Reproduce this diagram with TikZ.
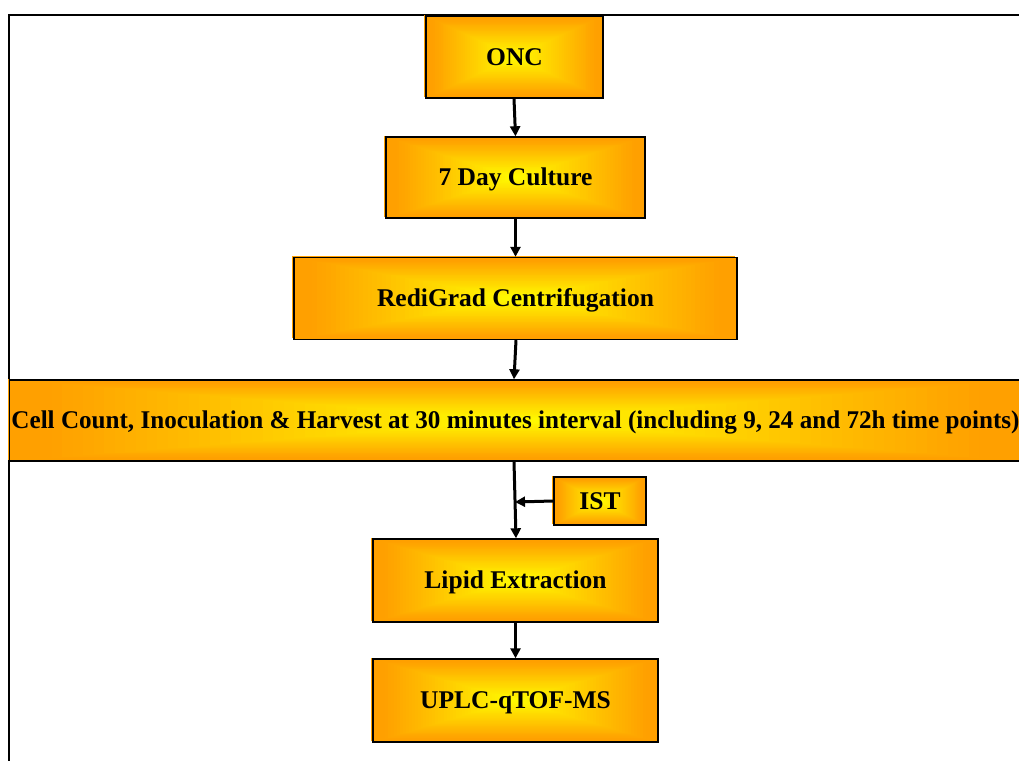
\documentclass[tikz,border=0pt]{standalone}
\usepackage{fontspec}
\usepackage{graphicx}
\setmainfont{Liberation Serif}
\usetikzlibrary{arrows.meta,calc}

% Box fill colours: yellow in the middle, orange towards every edge
\definecolor{gy}{RGB}{255,252,0}
\definecolor{go}{RGB}{255,160,0}

\tikzset{
  stepbox/.style 2 args={
    rectangle, draw=black, line width=1.4pt, inner sep=0pt,
    minimum width=#1, minimum height=#2,
    font=\bfseries\fontsize{25.5}{30}\selectfont, text=black,
    text height=16.8pt, text depth=0pt,
    preaction={fill=go, draw=none,
      transform canvas={xshift=-1.6pt, yshift=1.2pt}},
    % rectangular gradient: concentric rectangles from the rim inwards
    path picture={
      \foreach \k in {0,...,48} {
        \pgfmathsetmacro\s{1-\k/48}
        \pgfmathtruncatemacro\p{100*min(1,1.08*\s)}
        \fill[go!\p!gy]
          ($(path picture bounding box.center)!\s!(path picture bounding box.north west)$)
          rectangle
          ($(path picture bounding box.center)!\s!(path picture bounding box.south east)$);
      }
    }
  },
  flow/.style={line width=3pt, draw=black,
    -{Triangle[length=10pt,width=10pt]}},
  frameline/.style={line width=2pt, draw=black}
}

\begin{document}
\begin{tikzpicture}[x=1pt, y=-1pt]
  \clip (0,0) rectangle (1019,760);
  \fill[white] (0,0) rectangle (1019,760);

  % outer frame
  \draw[frameline] (9,780) -- (9,15) -- (1040,15);

  % process steps
  \node[stepbox={177pt}{82pt}] (onc) at (514.5,57) {ONC};
  \node[stepbox={259pt}{81pt}] (culture) at (515.5,177.5) {7 Day Culture};
  \node[stepbox={443pt}{82pt}] (redi) at (515.5,298.5) {RediGrad Centrifugation};
  \node[stepbox={1012pt}{81pt}] (cell) at (515.5,420.5)
    {\resizebox{1008pt}{\height}{Cell Count, Inoculation \& Harvest at 30 minutes interval (including 9, 24 and 72h time points)}};
  \node[stepbox={92pt}{48pt}] (ist) at (600,501) {IST};
  \node[stepbox={285pt}{83pt}] (lipid) at (515.5,580.5) {Lipid Extraction};
  \node[stepbox={285pt}{83pt}] (uplc) at (515.5,700.5) {UPLC-qTOF-MS};

  % connectors
  \draw[flow] ([xshift=-0.5pt]onc.south) -- (culture.north);
  \draw[flow] (culture.south) -- (redi.north);
  \draw[flow] ([xshift=0.5pt]redi.south) -- ([xshift=-1.5pt]cell.north);
  \draw[flow] ([xshift=-1.5pt]cell.south) -- ([xshift=0.5pt]lipid.north);
  \coordinate (join) at ($([xshift=-1.5pt]cell.south)!(ist.west)!([xshift=0.5pt]lipid.north)$);
  \draw[flow] (ist.west) -- (join);
  \draw[flow] (lipid.south) -- (uplc.north);
\end{tikzpicture}
\end{document}
